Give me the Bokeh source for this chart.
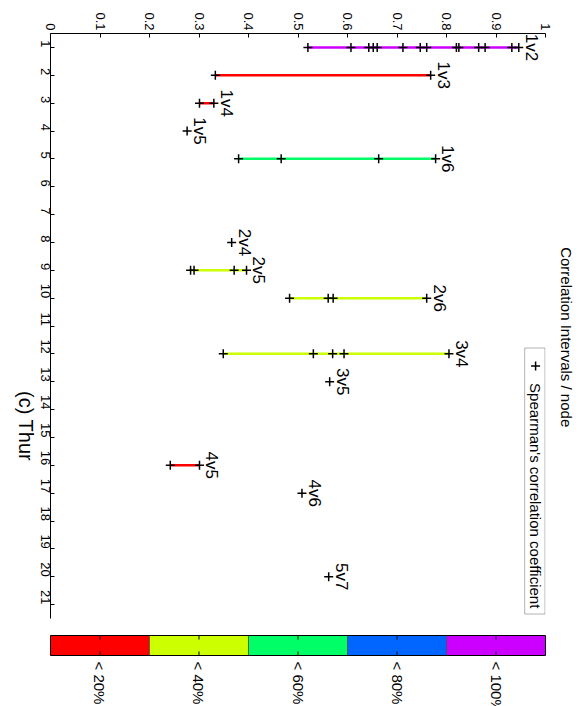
import math
from bokeh.plotting import figure
from bokeh.models import Range1d, FixedTicker, BoxAnnotation, ColumnDataSource, LinearAxis
from bokeh.layouts import column, row
from bokeh.embed import file_html
from bokeh.resources import INLINE
from bokeh.core.properties import value

FONT = "Liberation Sans"

# ---------------- data ----------------
pair_index = [1, 2, 3, 4, 5, 8, 9, 10, 12, 13, 16, 17, 20]
pair_labels = ["1v2", "1v3", "1v4", "1v5", "1v6", "2v4", "2v5", "2v6",
               "3v4", "3v5", "4v5", "4v6", "5v7"]

rho_1v2 = [0.52, 0.607, 0.643, 0.652, 0.66, 0.712, 0.747, 0.76, 0.82, 0.825,
           0.865, 0.878, 0.932, 0.946]
rho_1v3 = [0.333, 0.768]
rho_1v4 = [0.301, 0.33]
rho_1v5 = [0.276]
rho_1v6 = [0.38, 0.466, 0.663, 0.778]
rho_2v4 = [0.366]
rho_2v5 = [0.283, 0.29, 0.371, 0.396]
rho_2v6 = [0.483, 0.561, 0.571, 0.76]
rho_3v4 = [0.349, 0.531, 0.57, 0.593, 0.805]
rho_3v5 = [0.564]
rho_4v5 = [0.242, 0.301]
rho_4v6 = [0.508]
rho_5v7 = [0.562]
pair_rhos = [rho_1v2, rho_1v3, rho_1v4, rho_1v5, rho_1v6, rho_2v4, rho_2v5,
             rho_2v6, rho_3v4, rho_3v5, rho_4v5, rho_4v6, rho_5v7]

# confidence class of each interval (index into the colour scale)
pair_class = [4, 0, 0, 0, 2, 1, 1, 1, 1, 1, 0, 2, 2]

class_colors = ["#FF0000", "#CCFF00", "#00FF66", "#0066FF", "#CC00FF"]
class_labels = ["< 20%", "< 40%", "< 60%", "< 80%", "< 100%"]
class_edges = [0.0, 0.2, 0.4, 0.6, 0.8, 1.0]

corr_ticks = [0.0, 0.1, 0.2, 0.3, 0.4, 0.5, 0.6, 0.7, 0.8, 0.9, 1.0]
corr_tick_labels = ["0", "0.1", "0.2", "0.3", "0.4", "0.5", "0.6", "0.7",
                    "0.8", "0.9", "1"]
node_ticks = list(range(1, 22))
node_tick_labels = [str(t) for t in node_ticks]

title_text = "Correlation Intervals / node"
xlabel_text = "(c) Thur"
legend_text = "Spearman's correlation coefficient"

ROT = -math.pi / 2   # whole chart is turned a quarter turn clockwise
LABEL_GAP = 0.025    # gap between interval end and its pair label (data units)
XLABEL_AT = 15.85    # where the (rotated) x label sits along the node axis

# ---------------- main figure ----------------
p = figure(width=553, height=628, x_range=Range1d(0, 1), y_range=Range1d(21.5, 0.5),
           x_axis_location="above", y_axis_location="left",
           output_backend="svg", toolbar_location=None,
           min_border_left=50, min_border_right=8, min_border_top=33,
           min_border_bottom=10)
p.outline_line_color = None
p.xgrid.visible = False
p.ygrid.visible = False

xa = p.xaxis[0]
xa.ticker = FixedTicker(ticks=corr_ticks)
xa.major_label_overrides = {t: l for t, l in zip(corr_ticks, corr_tick_labels)}
ya = p.yaxis[0]
ya.ticker = FixedTicker(ticks=node_ticks)
ya.major_label_overrides = {t: l for t, l in zip(node_ticks, node_tick_labels)}
for ax, standoff in ((xa, 3), (ya, 5)):
    ax.major_label_orientation = ROT
    ax.major_tick_in = 4
    ax.major_tick_out = 0
    ax.minor_tick_line_color = None
    ax.major_label_standoff = standoff
    ax.major_label_text_font = FONT
    ax.major_label_text_font_size = "13px"
    ax.major_label_text_color = "black"
    ax.axis_line_color = "black"
    ax.major_tick_line_color = "black"

# outer left axis that only carries the rotated x label
lab_axis = LinearAxis(ticker=FixedTicker(ticks=[XLABEL_AT]),
                      major_label_overrides={XLABEL_AT: xlabel_text},
                      major_label_orientation=ROT, major_label_standoff=2,
                      major_label_text_font=FONT, major_label_text_font_size="20px",
                      major_label_text_color="black", axis_line_color=None,
                      major_tick_line_color=None, minor_tick_line_color=None)
p.add_layout(lab_axis, "left")

# legend frame (under the glyphs)
p.add_layout(BoxAnnotation(left=0.958, right=0.999, top=11.79, bottom=21.34,
                           fill_color="white", fill_alpha=1.0,
                           line_color="black", line_width=1, level="underlay"))

# interval lines
seg = dict(x0=[], x1=[], y=[], color=[])
for idx, rhos, cls in zip(pair_index, pair_rhos, pair_class):
    if len(rhos) > 1:
        seg["x0"].append(min(rhos))
        seg["x1"].append(max(rhos))
        seg["y"].append(idx)
        seg["color"].append(class_colors[cls])
p.segment(x0="x0", x1="x1", y0="y", y1="y", color="color", line_width=2.5,
          source=ColumnDataSource(seg))

# markers
mx, my = [], []
for idx, rhos in zip(pair_index, pair_rhos):
    for r in rhos:
        mx.append(r)
        my.append(idx)
p.scatter(x=mx, y=my, marker="cross", size=9, line_color="black", line_width=1.5)

# pair labels
lab_src = ColumnDataSource(dict(x=[max(r) + LABEL_GAP for r in pair_rhos],
                                y=pair_index, text=pair_labels))
p.text(x="x", y="y", text="text", source=lab_src, angle=ROT,
       text_align="center", text_baseline="alphabetic",
       text_font=value(FONT), text_font_size="17px", text_color="black")

# legend entry
p.scatter(x=[0.98], y=[12.44], marker="cross", size=9, line_color="black",
          line_width=1.5)
p.text(x=[0.98], y=[13.05], text=[legend_text], angle=ROT, text_align="left",
       text_baseline="middle", text_font=value(FONT), text_font_size="15px",
       text_color="black")

# ---------------- right strip for the (rotated) title ----------------
right_strip = figure(width=28, height=628, x_range=Range1d(0, 28),
                     y_range=Range1d(628, 0), x_axis_type=None, y_axis_type=None,
                     output_backend="svg", toolbar_location=None,
                     min_border_left=0, min_border_right=0, min_border_top=0,
                     min_border_bottom=0)
right_strip.outline_line_color = None
right_strip.text(x=[13], y=[326], text=[title_text], angle=ROT, text_align="center",
                 text_baseline="middle", text_font=value(FONT),
                 text_font_size="15px", text_color="black")

# ---------------- colour bar ----------------
cb = figure(width=581, height=78, x_range=Range1d(-0.002, 1.002),
            y_range=Range1d(-2.55, 1.35), x_axis_type=None, y_axis_type=None,
            output_backend="svg", toolbar_location=None,
            min_border_left=49, min_border_right=35, min_border_top=0,
            min_border_bottom=0)
cb.outline_line_color = None

cb.quad(left=class_edges[:-1], right=class_edges[1:], bottom=0, top=1,
        fill_color=class_colors, line_color=None)
cb.segment(x0=class_edges[1:-1], x1=class_edges[1:-1], y0=0, y1=1,
           line_color="#444444", line_width=0.8)
centers = [(a + b) / 2 for a, b in zip(class_edges[:-1], class_edges[1:])]
cb.segment(x0=centers, x1=centers, y0=1, y1=0.8, line_color="black", line_width=1)
cb.segment(x0=centers, x1=centers, y0=0, y1=0.2, line_color="black", line_width=1)
cb.quad(left=class_edges[0], right=class_edges[-1], bottom=0, top=1,
        fill_color=None, line_color="black", line_width=1)
cb.text(x=centers, y=-0.3, text=class_labels, angle=ROT,
        text_align="left", text_baseline="middle", text_font=value(FONT),
        text_font_size="15px", text_color="black")

layout = column(row(p, right_strip), cb)
open("out.html", "w").write(file_html(layout, INLINE))
